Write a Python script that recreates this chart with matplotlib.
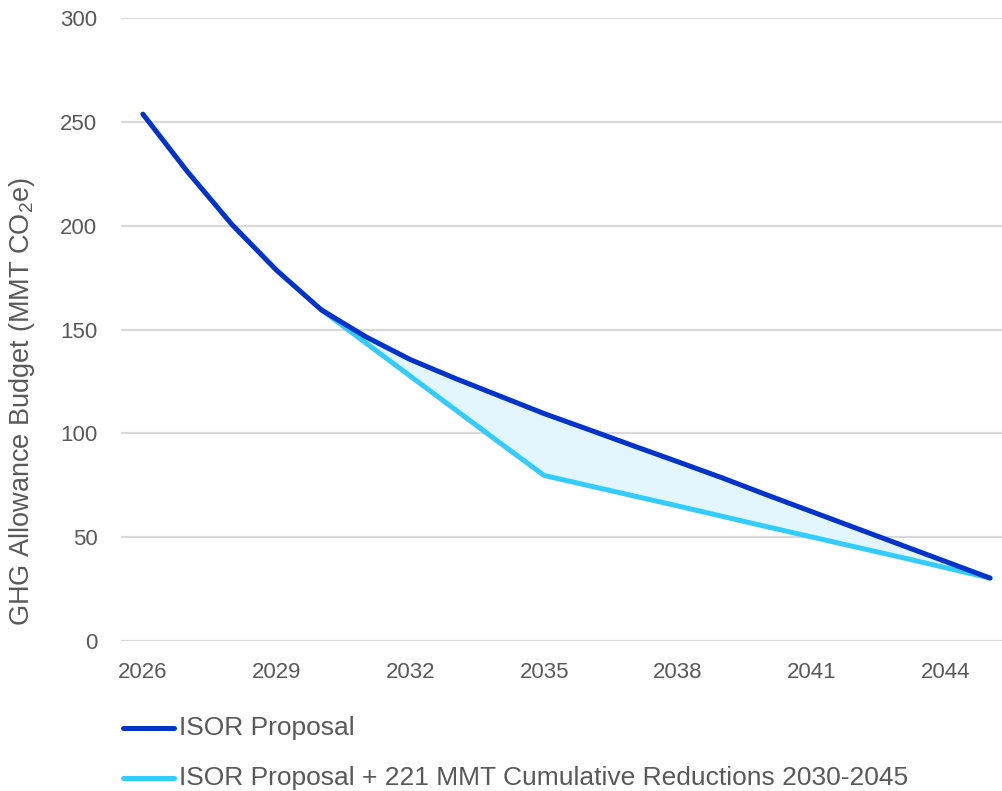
import matplotlib
matplotlib.use("Agg")
import matplotlib.pyplot as plt
from matplotlib.lines import Line2D

years = list(range(2026, 2046))
isor_proposal = [253.7, 226.0, 200.5, 178.5, 159.5, 146.5, 135.5, 126.5, 118.0, 109.5,
                 101.8, 94.0, 86.3, 78.5, 70.3, 62.3, 54.3, 46.3, 38.3, 30.3]
# reduced pathway starts in 2030
reduced_years = list(range(2030, 2046))
isor_reduced = [159.5, 143.5, 127.5, 111.5, 95.5, 79.7,
                74.8, 69.9, 65.0, 60.0, 55.0, 50.1, 45.2, 40.3, 35.3, 30.3]

series_labels = ["ISOR Proposal",
                 "ISOR Proposal + 221 MMT Cumulative Reductions 2030-2045"]
x_ticks = [2026, 2029, 2032, 2035, 2038, 2041, 2044]
y_ticks = [0, 50, 100, 150, 200, 250, 300]
y_label = "GHG Allowance Budget (MMT CO$_2$e)"

DARK = "#0033CC"
CYAN = "#33CCFF"
FILL = "#E3F5FD"
GRID = "#D9D9D9"
TEXT = "#595959"
FONT = ["Liberation Sans", "DejaVu Sans"]
plt.rcParams["font.family"] = FONT
plt.rcParams["mathtext.fontset"] = "custom"
plt.rcParams["mathtext.rm"] = "Liberation Sans"

fig = plt.figure(figsize=(10.03, 7.91), dpi=100)
ax = fig.add_axes([121 / 1003, 1 - 641 / 791, 1 - 121 / 1003, (641 - 18) / 791])

isor_from_2030 = isor_proposal[years.index(2030):]
ax.fill_between(reduced_years, isor_reduced, isor_from_2030, color=FILL, lw=0, zorder=1)
ax.plot(years, isor_proposal, color=DARK, lw=3.6, solid_capstyle="round",
        solid_joinstyle="round", zorder=3)
ax.plot(reduced_years, isor_reduced, color=CYAN, lw=3.6, solid_capstyle="round",
        solid_joinstyle="round", zorder=2)

ax.set_ylim(0, 300)
ax.set_xlim(2025.51, 2045.29)
ax.set_yticks(y_ticks)
ax.set_xticks(x_ticks)
ax.grid(axis="y", color=GRID, lw=1.6)
ax.set_axisbelow(True)
for s in ax.spines.values():
    s.set_visible(False)
ax.tick_params(axis="both", length=0, colors=TEXT, labelsize=16)
ax.tick_params(axis="y", pad=17)
ax.tick_params(axis="x", pad=15)

fig.text(22.5 / 1003, 1 - 401 / 791, y_label, rotation=90, ha="center", va="center",
         color=TEXT, fontsize=19.5)

# legend drawn below the plot
for i, (lab, col) in enumerate(zip(series_labels, [DARK, CYAN])):
    yy = 1 - (728 + 50 * i) / 791
    fig.add_artist(Line2D([123 / 1003, 174 / 1003], [yy, yy], color=col, lw=3.6,
                          solid_capstyle="round", transform=fig.transFigure))
    fig.text(179 / 1003, yy, lab, ha="left", va="center", color=TEXT, fontsize=19)

fig.savefig("out.png", dpi=100)
